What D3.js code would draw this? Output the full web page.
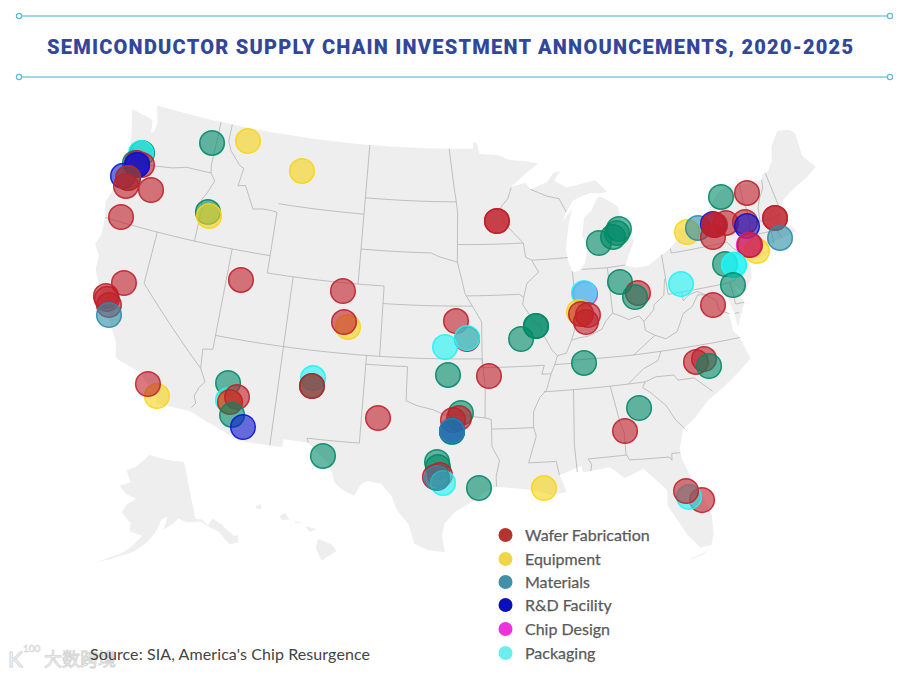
<!DOCTYPE html>
<html><head><meta charset="utf-8"><script src="https://cdn.jsdelivr.net/npm/d3@7"></script>
<style>html,body{margin:0;background:#fff}svg{display:block}</style></head><body><svg id="c" width="900" height="676"></svg>
<script>
const usOutline=[[-124.7,48.4],[-123.1,48.18],[-122.75,48.1],[-122.6,47.4],[-122.35,47.5],[-122.3,48],[-122.5,48.5],[-122.76,49],[-95.15,49],[-95.15,49.38],[-94.8,49.3],[-94.6,48.7],[-93,48.6],[-92,48.3],[-90.8,48.2],[-89.6,48],[-90.5,47.6],[-92,46.75],[-90.8,46.95],[-90.4,46.55],[-89,46.9],[-88.4,47.4],[-87.8,47.47],[-88.4,46.95],[-87.4,46.5],[-86,46.65],[-85,46.75],[-84.6,46.45],[-84.1,46],[-84.7,45.95],[-85.5,46.05],[-86.5,45.85],[-87,45.7],[-87.6,45.1],[-88,44.55],[-87.1,45.25],[-87.5,44.4],[-87.9,43],[-87.8,42.3],[-87.5,41.65],[-87,41.7],[-86.5,42.1],[-86.2,42.9],[-86.5,43.7],[-86.2,44.7],[-85.6,45],[-85,45.7],[-84.75,45.78],[-84.1,45.5],[-83.4,45.1],[-83.3,44.3],[-83.9,43.9],[-83.9,43.65],[-83,44.05],[-82.5,43],[-83.1,42.2],[-83.4,41.7],[-82.7,41.5],[-81.7,41.5],[-80.5,42],[-79.8,42.25],[-78.9,42.85],[-79.05,43.27],[-77.5,43.25],[-76.5,43.5],[-76.2,44],[-75.3,44.85],[-74.7,45],[-71.5,45],[-71.4,45.25],[-70.8,45.4],[-70.3,45.9],[-70,46.7],[-69.2,47.45],[-68.3,47.35],[-67.8,47.07],[-67.8,45.7],[-67.45,45.3],[-67,44.85],[-68,44.4],[-69,44.1],[-70.2,43.6],[-70.7,43.05],[-70.8,42.6],[-71,42.3],[-70.6,41.95],[-70.2,42.05],[-69.95,41.65],[-70.7,41.55],[-71.4,41.45],[-72.9,41.25],[-73.7,41],[-74,40.7],[-74,40.45],[-74.1,39.75],[-74.9,38.95],[-75.5,39.5],[-75.4,39],[-75.05,38.45],[-75.9,37.15],[-75.95,37.95],[-76.2,38.9],[-76.5,39.2],[-76.45,38.3],[-76.3,37.6],[-76.3,37],[-75.95,36.6],[-75.5,35.25],[-76.5,34.65],[-77.9,33.9],[-79,33.4],[-80,32.6],[-81,32],[-81.4,31],[-81.4,30.4],[-81,29.3],[-80.55,28.45],[-80.05,26.9],[-80.15,25.75],[-80.4,25.2],[-81.1,25.15],[-81.75,25.95],[-82.2,26.8],[-82.75,27.8],[-82.65,28.7],[-83.4,29.5],[-84,30.1],[-85.3,29.7],[-86.2,30.4],[-87.5,30.3],[-88,30.25],[-88.1,30.65],[-88.9,30.4],[-89.6,30.2],[-89.4,29.8],[-89.2,29.2],[-90.2,29.1],[-91.3,29.4],[-92.2,29.55],[-93.8,29.7],[-94.7,29.35],[-95.3,28.9],[-96.5,28.3],[-97.2,27.6],[-97.35,26.9],[-97.15,25.96],[-98.2,26.05],[-99.1,26.4],[-99.5,27.5],[-100.3,28.3],[-100.7,29.1],[-101.4,29.77],[-102.3,29.88],[-102.7,29.7],[-103.15,28.98],[-104,29.3],[-104.5,29.65],[-104.9,30.6],[-106.5,31.75],[-108.2,31.78],[-108.2,31.33],[-111.07,31.33],[-114.8,32.5],[-117.12,32.53],[-117.3,33],[-118.4,33.75],[-118.5,34.03],[-119.2,34.15],[-120.5,34.45],[-120.65,34.6],[-120.9,35.4],[-121.9,36.6],[-122,36.95],[-122.5,37.5],[-122.5,37.8],[-123,38],[-123.75,39],[-123.8,39.8],[-124.35,40.4],[-124.1,41],[-124.2,42],[-124.55,42.85],[-124.1,44],[-123.95,46.2],[-124.1,46.9],[-124.7,48.4]];
const longIsland=[[-74,40.6],[-72.6,40.8],[-71.9,41.05],[-72.6,41],[-73.7,40.88],[-74,40.6]];
const floridaKeys=[[-81.8,24.55],[-81,24.72],[-80.4,25.15],[-80.95,24.82],[-81.8,24.6],[-81.8,24.55]];
const stateBorders=[
[[-124,46.25],[-123.2,46.15],[-122.8,45.7],[-122.3,45.55],[-121.2,45.65],[-120.2,45.75],[-119.3,45.93],[-119,46],[-116.92,46]],
[[-117.04,49],[-117.04,46.4],[-116.92,46],[-116.5,45.6],[-116.85,44.9],[-117.2,44.4],[-117.03,43.85],[-117.03,42]],
[[-124.2,42],[-111.05,42]],
[[-120,42],[-120,39],[-114.63,35]],
[[-114.63,35],[-114.15,34.3],[-114.5,33.9],[-114.7,33.4],[-114.5,33],[-114.72,32.72]],
[[-114.04,42],[-114.04,36.2],[-114.75,36.1],[-114.63,35]],
[[-114.04,37],[-94.62,37]],
[[-109.05,41],[-109.05,31.33]],
[[-111.05,44.5],[-111.05,41],[-102.05,41],[-102.05,37]],
[[-102.05,40],[-95.3,40]],
[[-116.05,49],[-116.05,48],[-115.7,47.5],[-114.7,46.75],[-114.35,46.65],[-114.55,45.6],[-113.95,45.7],[-113.45,45.05],[-113,44.45],[-112.3,44.55],[-111.5,44.55],[-111.05,44.5]],
[[-111.05,45],[-104.05,45]],
[[-104.05,49],[-104.05,41]],
[[-104.05,45.94],[-96.56,45.94]],
[[-104.05,43],[-98.5,43],[-97.9,42.8],[-96.45,42.5]],
[[-103,37],[-103.05,32],[-106.62,32],[-106.5,31.75]],
[[-103,36.5],[-100,36.5],[-100,34.56],[-99.2,34.3],[-98.1,34.1],[-97.2,33.8],[-96,33.8],[-94.48,33.64],[-94.05,33.55],[-94.04,32],[-93.55,31.2],[-93.8,30.3],[-93.8,29.7]],
[[-94.62,37],[-94.43,35.4],[-94.48,33.64]],
[[-95.3,40],[-94.62,39.1],[-94.62,36.5],[-90.15,36.5],[-90.37,36],[-89.7,36]],
[[-96.45,42.5],[-96.1,41.5],[-95.85,40.7],[-95.3,40]],
[[-96.45,43.5],[-91.22,43.5]],
[[-97.2,49],[-96.8,47],[-96.56,45.94],[-96.45,45.3],[-96.45,42.5]],
[[-95.77,40.58],[-91.7,40.6],[-91.4,40.4]],
[[-92,46.7],[-92.3,46.1],[-92.9,45.6],[-92.75,44.75],[-91.22,43.5],[-91.1,42.7],[-90.64,42.5],[-90.15,41.8],[-91.1,41.2],[-91.4,40.4],[-91.5,40],[-90.7,39],[-90.2,38.7],[-90.2,38.4],[-89.5,37.3],[-89.15,37],[-89.4,36.5],[-89.7,36],[-90.1,35.1],[-90.6,34.7],[-91.1,33.9],[-91.15,33],[-91,32.5],[-91.6,31],[-89.75,31],[-89.6,30.2]],
[[-94.04,33],[-91.15,33]],
[[-90.64,42.5],[-87.8,42.5]],
[[-90.4,46.55],[-89.1,46.1],[-88.1,45.9],[-87.6,45.1]],
[[-87.53,41.7],[-87.53,39.3],[-87.6,38.7],[-88.05,37.8]],
[[-89.15,37],[-88.5,37.1],[-88.05,37.8],[-87.5,37.9],[-86.8,37.95],[-86.3,38.1],[-85.75,38.27],[-85.4,38.7],[-84.85,39.1],[-84.3,38.9],[-83.7,38.63],[-82.9,38.75],[-82.6,38.4],[-82.1,38.75],[-81.75,39],[-81.7,39.25],[-80.85,39.7],[-80.6,40.6],[-80.52,40.64]],
[[-84.82,41.7],[-84.82,39.1]],
[[-86.8,41.76],[-84.8,41.7],[-83.45,41.73]],
[[-80.52,42],[-80.52,39.72],[-75.79,39.72],[-75.4,39.8]],
[[-79.76,42.27],[-79.76,42],[-75.35,42],[-75,41.6],[-74.7,41.36],[-74,41]],
[[-74.7,41.36],[-75.1,41],[-75.2,40.65],[-74.75,40.2],[-75.4,39.8]],
[[-75.79,39.72],[-75.7,38.46],[-75.05,38.45]],
[[-75.6,37.95],[-75.9,37.95]],
[[-76.3,38],[-77,38.3],[-77.05,38.85],[-77.7,39.3],[-78.35,39.6],[-79.05,39.47],[-79.48,39.2],[-79.48,39.72]],
[[-77.7,39.3],[-78.35,39.4],[-78.9,38.8],[-79.65,38.5],[-80.3,37.55],[-81.2,37.25],[-81.95,37.54],[-82.6,37.9],[-82.6,38.4]],
[[-81.95,37.54],[-83.68,36.6]],
[[-89.4,36.5],[-88.07,36.5],[-88.07,36.68],[-83.68,36.6],[-81.7,36.59],[-75.9,36.55]],
[[-81.7,36.59],[-82,36.1],[-83.1,35.75],[-84.32,35]],
[[-90.3,35],[-83.1,35]],
[[-83.1,35],[-82.3,35.2],[-81.05,35.15],[-80.8,34.82],[-79.67,34.8],[-78.55,33.86]],
[[-83.1,35],[-83.35,34.7],[-82.9,34.4],[-81.9,33.5],[-81.4,32.6],[-80.9,32.05]],
[[-85.6,35],[-85.2,32.87],[-85,32.3],[-85.05,31]],
[[-87.6,31],[-85,31],[-84.86,30.7],[-82.2,30.57],[-82.05,30.36],[-82,30.75],[-81.45,30.72]],
[[-87.6,31],[-87.4,30.65],[-87.5,30.3]],
[[-88.2,35],[-88.45,31.9],[-88.4,30.3]],
[[-71.5,45],[-71.6,44.5],[-72.05,44],[-72.35,43.5],[-72.46,42.73]],
[[-73.35,45],[-73.4,44],[-73.25,43.55],[-73.27,42.75],[-73.5,42.05],[-73.5,41.3],[-73.65,41]],
[[-73.5,42.05],[-71.8,42.02],[-71.38,42.02],[-71.15,41.5]],
[[-71.8,42.02],[-71.85,41.32]],
[[-73.27,42.75],[-71.3,42.7],[-70.8,42.87]],
[[-70.7,43.05],[-71.08,45.3]]
];
const alaskaOutline=[[-141,69.6],[-141,60.3],[-139,60],[-137.5,58.9],[-135.5,59.7],[-133.5,58.4],[-131,56],[-130,55.9],[-130.5,54.8],[-133,55],[-135,57.5],[-136.5,58.2],[-139.5,59.7],[-144,60],[-146.5,60.8],[-148.5,60],[-151.5,59.2],[-150,61.2],[-152,60.8],[-154,58.8],[-156.5,57.2],[-160,55.6],[-163.5,54.7],[-166.5,53.8],[-169.5,53],[-166.5,54.1],[-163.5,55.1],[-161.5,56],[-158,58.2],[-162,58.7],[-162,60],[-165.5,61.5],[-164,63],[-161,64],[-165,64.5],[-168,65.6],[-164,66.5],[-166.5,68.3],[-163,69],[-157,71.2],[-150,70.5],[-141,69.6]];
const hawaiiIslands=[[[-155.9,20.2],[-155.1,19.9],[-154.8,19.5],[-155.7,18.95],[-156.05,19.7],[-155.9,20.2]],[[-156.7,20.95],[-156,20.75],[-156.4,20.6],[-156.7,20.95]],[[-158.25,21.5],[-157.9,21.7],[-157.65,21.3],[-158.1,21.3],[-158.25,21.5]],[[-159.75,22.05],[-159.4,22.2],[-159.35,21.95],[-159.6,21.9],[-159.75,22.05]],[[-157.3,21.2],[-156.75,21.17],[-157.3,21.1],[-157.3,21.2]]];

const categories=["Wafer Fabrication","Equipment","Materials","R&D Facility","Chip Design","Packaging"];
const legendColors=["#b5332e","#f0d548","#428fa8","#0b0fbb","#f030d8","#6eeded"];
const markColors={W:"#c0202a",E:"#f8d414",M:"#2a8ca8",R:"#0a14d2",C:"#f020d8",P:"#1cf5f5",G:"#008a67"};
const pointLon=[-122.85,-122.93,-123.17,-123.02,-122.58,-122.97,-122.97,-123.81,-123.37,
-123.37,-123.35,-121.33,-123.03,-117.40,-114.45,-109.53,-116.49,-116.34,
-121.45,-122.47,-122.34,-122.08,-121.88,-112.94,-105.15,-104.52,-104.85,
-117.21,-118.00,-112.55,-112.35,-112.19,-111.77,-112.19,-111.90,-111.03,
-106.67,-106.68,-106.68,-101.89,-105.42,-97.08,-94.15,-96.15,-96.28,
-96.70,-96.76,-96.76,-96.76,-97.75,-97.68,-97.54,-97.87,-97.33,-97.73,
-94.95,-90.67,-96.53,-95.71,-95.71,-97.32,-91.74,-90.59,-90.59,
-93.26,-93.26,-86.74,-86.81,-87.32,-86.67,-86.87,-87.18,-87.29,
-83.99,-82.75,-83.01,-85.25,-84.09,-83.74,-83.54,-79.43,-77.36,
-79.34,-78.74,-78.48,-75.03,-72.92,-78.25,-77.34,-76.12,-76.06,
-75.98,-76.33,-75.10,-73.62,-73.54,-71.26,-71.26,-71.28,-73.25,
-73.74,-73.66,-75.85,-75.20,-75.20,-75.60,-83.78,-84.93,-80.51,-81.31,-81.44];
const pointLat=[46.13,46.11,45.46,45.50,45.47,45.39,45.39,44.56,44.53,
44.53,44.06,44.23,42.28,47.70,48.24,47.06,43.78,43.57,
38.72,37.73,37.59,37.29,36.74,40.36,40.53,38.52,38.78,
32.95,33.50,34.47,33.52,33.43,33.77,33.43,32.72,32.14,
35.44,34.98,34.98,33.50,31.09,36.09,36.02,33.93,33.65,
33.53,32.85,32.91,32.91,31.13,30.84,30.39,30.27,29.93,30.21,
29.65,29.52,39.15,38.13,38.19,37.67,38.06,38.75,38.75,
44.82,44.82,40.35,40.41,39.37,39.15,38.76,39.24,36.46,
40.81,40.05,39.85,43.15,43.40,43.59,43.81,40.17,38.67,
35.67,35.75,35.31,44.59,44.47,43.02,43.13,43.18,43.11,
43.10,42.45,43.08,42.89,42.64,42.69,42.69,41.52,41.12,
41.56,41.55,40.81,40.65,40.65,39.55,33.57,32.37,27.84,28.13,28.50];
const pointType="GPGWWRRRG WWWWGEEGE WWWWMWWEW EWGPEWWGR PGWWGGWGW WGRMGGWWPM GEWWPPGGG WWCPEWWWG GWGGGGGPW WWGGWEMRW WWWWRWWME CWGPPGGWW PW".replace(/ /g,"").split("");

const svg=d3.select("#c");
const proj=d3.geoAlbers().scale(1000).translate([455,329]);
const pathMain=d3.geoPath(proj);
const projAK=d3.geoConicEqualArea().rotate([154,0]).center([-2,58.5]).parallels([55,65]).scale(358).translate([149,534]);
const projHI=d3.geoConicEqualArea().rotate([157,0]).center([0,20.6]).parallels([8,18]).scale(1000).translate([300,532]);
function dense(c){const o=[];for(let i=0;i<c.length-1;i++){const n=Math.ceil(Math.abs(c[i+1][0]-c[i][0]))||1;for(let k=0;k<n;k++)o.push([c[i][0]+(c[i+1][0]-c[i][0])*k/n,c[i][1]+(c[i+1][1]-c[i][1])*k/n]);}o.push(c[c.length-1]);return o;}
const ls=c=>({type:"LineString",coordinates:dense(c)});
const land="#eeeeee";
[usOutline,longIsland,floridaKeys].forEach(c=>svg.append("path").attr("d",pathMain(ls(c))).attr("fill",land));
svg.append("path").attr("d",d3.geoPath(projAK)(ls(alaskaOutline))).attr("fill",land);
hawaiiIslands.forEach(c=>svg.append("path").attr("d",d3.geoPath(projHI)(ls(c))).attr("fill",land));
svg.append("g").selectAll("path").data(stateBorders).join("path").attr("d",d=>pathMain(ls(d))).attr("fill","none").attr("stroke","#b3b3b3").attr("stroke-width",.8);
svg.append("g").selectAll("circle").data(pointLon).join("circle")
 .attr("cx",(d,i)=>proj([d,pointLat[i]])[0]).attr("cy",(d,i)=>proj([d,pointLat[i]])[1]).attr("r",12.3)
 .attr("fill",(d,i)=>markColors[pointType[i]]).attr("fill-opacity",.6)
 .attr("stroke",(d,i)=>markColors[pointType[i]]).attr("stroke-opacity",.9).attr("stroke-width",1.5);
[16,77].forEach(y=>{svg.append("line").attr("x1",19).attr("x2",890).attr("y1",y).attr("y2",y).attr("stroke","#7fcbe2").attr("stroke-width",1.4);
[19,890].forEach(x=>svg.append("circle").attr("cx",x).attr("cy",y).attr("r",2.6).attr("fill","#fff").attr("stroke","#5dbcd8").attr("stroke-width",1.2));});
svg.append("text").text("SEMICONDUCTOR SUPPLY CHAIN INVESTMENT ANNOUNCEMENTS, 2020-2025").attr("x",450).attr("y",54).attr("text-anchor","middle").attr("font-family","Roboto").attr("font-weight",900).attr("font-size",20).attr("textLength",806).attr("lengthAdjust","spacing").attr("fill","#33479a");
const ly=[535,559,582,605,629,653];
categories.forEach((c,i)=>{svg.append("circle").attr("cx",505.5).attr("cy",ly[i]).attr("r",7).attr("fill",legendColors[i]);
svg.append("text").text(c).attr("x",525).attr("y",ly[i]+5.5).attr("font-family","Lato").attr("font-size",16).attr("fill","#5a5a5a").attr("stroke","#5a5a5a").attr("stroke-width",.25);});
svg.append("text").text("大数跨境").attr("x",44).attr("y",666).attr("font-family","Noto Sans CJK SC").attr("font-size",18).attr("fill","#fff").attr("stroke","#d4d4d4").attr("stroke-width",.9);
svg.append("text").text("K").attr("x",8).attr("y",667).attr("font-family","Lato").attr("font-size",22).attr("fill","#fff").attr("stroke","#d4d4d4").attr("stroke-width",1);
svg.append("text").text("100").attr("x",23).attr("y",652).attr("font-family","Lato").attr("font-size",10).attr("fill","#fff").attr("stroke","#d4d4d4").attr("stroke-width",.6);
svg.append("text").text("Source: SIA, America's Chip Resurgence").attr("x",90).attr("y",660).attr("font-family","Lato").attr("font-size",16).attr("textLength",280).attr("lengthAdjust","spacing").attr("fill","#444");
</script></body></html>
